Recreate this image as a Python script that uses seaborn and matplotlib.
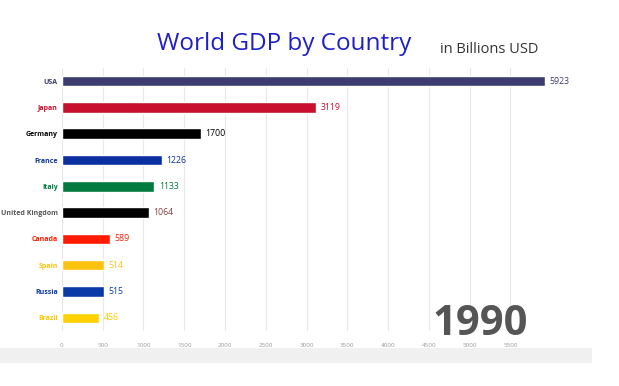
"""World GDP by country, 1990 frame of a bar chart race."""

import matplotlib.pyplot as plt
import numpy as np
import pandas as pd
import seaborn as sns

countries = ["USA", "Japan", "Germany", "France", "Italy",
             "United Kingdom", "Canada", "Spain", "Russia", "Brazil"]
gdp = [5923, 3119, 1700, 1226, 1133, 1064, 589, 514, 515, 456]
bar_colors = ["#3c3d6e", "#c8102e", "#000000", "#0a2f9e", "#017a40",
              "#000000", "#ff1a00", "#ffc20e", "#0a3aa8", "#ffd100"]
label_colors = ["#3c3d6e", "#c8102e", "#000000", "#0a2f9e", "#017a40",
                "#555555", "#ff1a00", "#ffc20e", "#0a3aa8", "#ffc800"]
value_colors = ["#3c3d6e", "#c8102e", "#000000", "#0a2f9e", "#017a40",
                "#8b3a3a", "#ff1a00", "#ffc20e", "#0a3aa8", "#ffc800"]
x_ticks = list(range(0, 6000, 500))
year = "1990"

df = pd.DataFrame({"country": countries, "gdp": gdp})

sns.set_theme(style="white")
plt.rcParams["font.family"] = ["Open Sans", "DejaVu Sans"]

fig = plt.figure(figsize=(6.19, 3.86), dpi=100)

# Soft shadow band under the frame (white at top fading to light grey).
shade = fig.add_axes([0, 0.0596, 0.955, 0.04])
shade.imshow(np.linspace(0.0, 1.0, 20).reshape(-1, 1), aspect="auto",
             cmap=sns.light_palette("#f0f0f0", as_cmap=True),
             extent=(0, 1, 0, 1))
shade.axis("off")

ax = fig.add_axes([0.100, 0.1425, 0.83, 0.6815])

sns.barplot(data=df, x="gdp", y="country", hue="country",
            palette=dict(zip(countries, bar_colors)), order=countries,
            width=0.4, legend=False, saturation=1, ax=ax)

ax.set_xlim(0, 6300)
ax.set_xticks(x_ticks)
ax.set_xticklabels([str(t) for t in x_ticks], fontsize=4.5, color="#999999")
ax.tick_params(axis="x", length=4, width=0.6, color="#cccccc", pad=5)
ax.tick_params(axis="y", length=0, pad=3)
for t in x_ticks:
    ax.axvline(t, color="#e8e8e8", linewidth=0.8, zorder=0)

ax.set_xlabel("")
ax.set_ylabel("")
for lbl, c in zip(ax.get_yticklabels(), label_colors):
    lbl.set_color(c)
    lbl.set_fontweight("bold")
    lbl.set_fontsize(5)

for i, (v, c) in enumerate(zip(gdp, value_colors)):
    ax.text(v + 55, i, f"{v}", color=c, fontsize=6.3, va="center",
            ha="left", clip_on=False)

sns.despine(ax=ax, left=True, bottom=True, top=True, right=True)

fig.text(0.459, 0.870, "World GDP by Country", color="#1f1fc8",
         fontsize=17.5, ha="center", va="baseline")
fig.text(0.711, 0.862, "in Billions USD", color="#333333",
         fontsize=10.5, ha="left", va="baseline")
ax.text(0.907, -0.015, year, transform=ax.transAxes, color="#555555",
        fontsize=30, fontweight="bold", ha="right", va="baseline")

fig.savefig("out.png", dpi=100, facecolor="white")
plt.close(fig)
